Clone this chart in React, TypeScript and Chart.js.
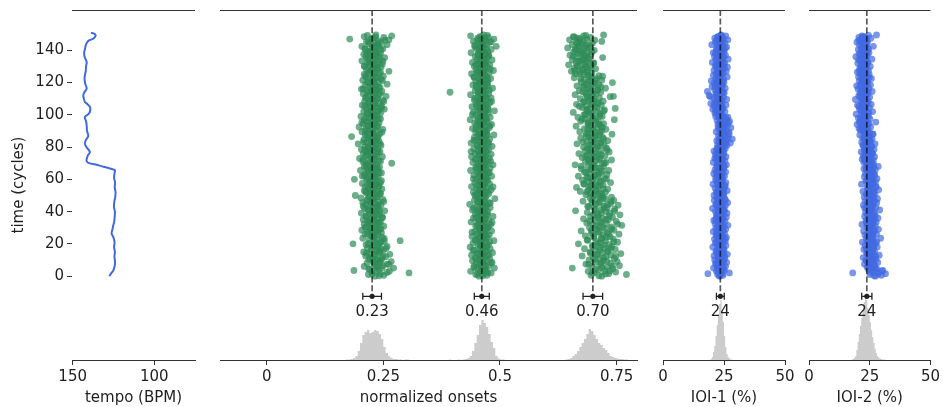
import React, { useEffect, useRef } from "react";
import { Chart, registerables } from "chart.js";

Chart.register(...registerables);

// ---------------- data ----------------
// tempo curve (cycle -> BPM)
const tempoCycle = [0, 1.5, 3.5, 6, 9, 12, 15, 18, 21, 24, 26.5, 29, 31.5, 34, 37, 40, 43, 46, 49, 52, 55, 58, 61, 64, 65.7, 66.7, 67.8, 68.8, 70.2, 71.5, 73, 75, 77, 79.5, 82, 84.5, 87, 90, 93.5, 96, 98.7, 100.8, 103, 104.9, 106.5, 108, 110, 112, 114, 116.3, 119, 122, 124.5, 127, 130, 132.7, 135, 137, 139, 141, 143, 144.5, 146, 147.2, 148.3, 149.3, 150.3, 151];
const tempoBpm = [127.6, 126.5, 125.1, 124.3, 124.0, 124.4, 124.1, 124.6, 124.3, 125.0, 126.1, 125.6, 125.1, 124.5, 124.2, 124.1, 124.7, 124.5, 123.9, 123.7, 124.2, 124.0, 124.6, 124.3, 124.1, 127.1, 131, 134.3, 140.4, 141.5, 141.3, 140.6, 139.4, 141.2, 142.5, 141.8, 140.4, 141.2, 141.4, 141.8, 142.5, 140.0, 139.2, 139.4, 140.8, 142.5, 143.1, 143.5, 142.8, 141.4, 142.2, 142.7, 142.5, 142.0, 141.8, 141.4, 142.3, 142.9, 142.9, 142.4, 142.0, 141.4, 140.2, 137.4, 136.3, 135.9, 136.8, 138.8];

// main arrays: two observations per cycle, from cycle 0 upward (time = index / 2)
const CYCLES_PER_POINT = 0.5;
// extra arrays: one observation per cycle (time = index + 0.25)
const EXTRA_OFFSET = 0.25;

const onset1 = [
  .232, .251, .218, .244, .305, .226, .263, .187, .240, .221, .272, .236, .209, .249, .231, .258, .215, .242, .267, .228,
  .238, .219, .247, .226, .255, .212, .233, .264, .221, .241, .208, .236, .250, .224, .245, .216, .239, .258, .229, .213,
  .185, .243, .231, .252, .286, .220, .237, .206, .248, .227,
  .224, .239, .211, .232, .246, .218, .229, .204, .241, .222, .235, .214, .251, .227, .209, .238, .220, .244, .216, .231,
  .207, .236, .225, .248, .213, .230, .242, .219, .203, .234, .226, .253, .217, .240, .210, .228, .237, .221, .245, .212,
  .233, .206, .239, .224, .216, .249, .229, .202, .236, .219, .190, .232, .243, .214, .227, .238, .209, .222, .247, .218,
  .230, .211, .241, .225, .235, .205, .244, .220, .233, .215,
  .188, .228, .214, .239, .205, .224, .233, .211, .246, .219, .230, .201, .237, .216, .226, .242, .209, .221, .235, .213,
  .268, .227, .206, .240, .218, .231, .199, .224, .248, .212, .229, .236, .207, .220, .243, .215, .226, .203, .238, .217,
  .232, .210, .245, .222, .196, .234, .214, .228, .240, .208, .225, .219, .237, .182, .230, .211, .242, .216, .227, .204,
  .235, .221, .249, .213, .229, .198, .238, .218, .226, .207, .241, .223, .214, .233, .209, .244, .220, .231, .202, .236,
  .231, .216, .244, .223, .208, .238, .227, .252, .214, .235, .220, .246, .205, .229, .241, .218, .233, .210, .249, .225,
  .237, .212, .228, .256, .219, .240, .207, .232, .224, .247, .215, .236, .203, .229, .243, .221, .234, .211, .258, .226,
  .217, .239, .230, .206, .245, .222, .235, .213, .250, .228, .209, .241, .219, .232, .262, .224, .214, .237, .229, .245,
  .210, .233, .221, .248, .216, .238, .226, .204, .242, .231, .219, .253, .213, .236, .227, .208, .244, .222, .234, .217,
  .232, .211, .249, .226, .241, .204, .236, .258, .219, .230, .245, .214, .239, .262, .178, .227, .251, .209, .268, .234,
];
const onset1Extra = [
  .241, .226, .258, .233, .219, .247, .236, .262, .229, .244,
  .237, .221, .249, .230, .214, .243, .234, .256, .225, .239, .218, .245, .231, .252, .227,
  .229, .216, .238, .224, .245, .211, .233, .222, .241, .219, .230, .248, .213, .236, .226, .242, .218, .232, .207, .239,
  .224, .251, .215, .228, .237, .220, .244, .212, .231, .226, .240, .217, .234, .223, .246,
  .221, .234, .209, .228, .241, .216, .225, .237, .212, .230, .219, .244, .206, .227, .235, .214, .223, .239, .210, .231,
  .218, .226, .243, .208, .233, .221, .238, .215, .229, .247, .211, .224, .236, .217, .232, .204, .228, .240, .213, .225,
  .228, .215, .239, .223, .246, .210, .232, .220, .251, .226, .237, .213, .229, .243, .218, .234, .207, .240, .224, .231,
  .216, .248, .227, .236, .212, .230, .244, .219, .225, .238, .209, .233, .221, .249, .217, .228, .241, .214, .235, .222,
  .245, .211, .231, .226, .239, .218, .253, .224, .233, .216,
];

const onset2 = [
  .455, .472, .448, .466, .481, .459, .437, .470, .463, .452, .488, .461, .444, .476, .458, .467, .449, .483, .464, .441,
  .469, .456, .478, .447, .462, .474, .439, .465, .451, .484, .460, .471, .445, .457, .479, .463, .436, .468, .453, .475,
  .458, .442, .470, .461, .487, .449, .466, .454, .473, .440, .462, .477, .451, .468, .459, .446, .482, .464, .455, .471,
  .457, .473, .448, .465, .480, .452, .467, .438, .461, .476, .454, .469, .443, .463, .485, .458, .471, .447, .466, .452,
  .474, .460, .441, .468, .456, .479, .449, .464, .471, .435, .459, .477, .453, .467, .445, .462, .489, .456, .470, .448,
  .465, .451, .476, .460, .443, .468, .457, .481, .450, .463, .472, .439, .466, .455, .478, .461, .446, .469, .458, .474,
  .463, .449, .471, .456, .482, .444, .467, .459, .475, .451, .464, .437, .470, .457, .479, .448, .466, .461, .485, .453,
  .468, .442, .473, .458, .464, .450, .477, .462, .439, .469, .455, .481, .447, .465, .472, .452, .460, .476, .444, .467,
  .458, .483, .451, .470, .463, .438, .474, .456, .466, .449, .478, .461, .445, .469, .454, .487, .460, .472, .448, .465,
  .471, .454, .466, .441, .477, .459, .468, .450, .482, .462, .446, .473, .457, .465, .436, .470, .453, .479, .461, .448,
  .467, .458, .475, .443, .464, .488, .452, .469, .456, .474, .440, .463, .471, .449, .460, .478, .455, .466, .445, .472,
  .459, .481, .451, .468, .462, .437, .476, .454, .393, .465, .447, .470, .458, .484, .450, .463, .473, .442, .467, .456,
  .474, .460, .448, .469, .455, .480, .462, .444, .471, .457, .466, .439, .477, .452, .464, .486, .449, .468, .458, .473,
  .445, .463, .478, .454, .467, .441, .470, .459, .483, .451, .465, .472, .447, .461, .476, .453, .468, .438, .474, .462,
  .456, .481, .450, .466, .459, .492, .446, .471, .463, .455, .478, .443, .469, .460, .487, .452, .475, .457, .437, .465,
];
const onset2Extra = [
  .463, .452, .474, .458, .467, .445, .470, .456, .481, .461, .449, .466, .459, .476, .453, .468, .442, .464, .472, .457,
  .460, .478, .447, .465, .455, .471, .462, .440, .469, .458, .475, .451, .464, .483, .456, .467, .448, .461, .473, .454,
  .466, .459, .444, .470, .462, .479, .452, .465, .457, .468, .446, .463, .474, .455, .460, .485, .450, .467, .458, .471,
  .443, .464, .469, .456, .477, .461, .449, .466, .453, .472, .459, .480, .447, .463, .468, .455, .462, .438, .470, .457,
  .465, .451, .476, .460, .444, .467, .458, .473, .454, .464, .469, .448, .461, .478, .456, .466, .452, .471, .459, .463,
  .441, .468, .457, .475, .462, .450, .466, .455, .482, .460, .446, .470, .458, .464, .453, .477, .461, .467, .449, .472,
  .456, .463, .474, .445, .468, .459, .451, .466, .479, .457, .462, .448, .470, .455, .465, .460, .476, .453, .468, .461,
  .457, .471, .446, .464, .459, .481, .452, .467, .460, .473,
];

const onset3 = [
  .718, .695, .771, .733, .702, .748, .689, .724, .711, .742, .655, .729, .697, .756, .716, .684, .737, .705, .751, .722,
  .691, .714, .745, .700, .727, .676, .738, .709, .759, .719, .693, .731, .704, .747, .681, .723, .712, .740, .698, .734,
  .668, .715, .752, .706, .726, .688, .743, .717, .701, .736, .683, .721, .755, .696, .730, .710, .674, .744, .707, .725,
  .692, .739, .713, .761, .699, .728, .686, .718, .749, .703, .732, .679, .720, .741, .694, .711, .757, .708, .735, .687,
  .727, .662, .716, .746, .702, .730, .690, .723, .753, .705, .737, .697, .714, .678, .744, .709, .726, .693, .739, .719,
  .701, .684, .718, .693, .726, .672, .707, .689, .731, .698, .664, .712, .694, .721, .680, .705, .737, .691, .715, .677,
  .699, .724, .686, .710, .668, .703, .729, .692, .716, .681, .708, .733, .696, .674, .713, .688, .722, .700, .661, .719,
  .695, .727, .683, .706, .739, .690, .714, .676, .702, .725, .687, .711, .669, .697, .734, .682, .717, .693, .705, .728,
  .679, .709, .691, .723, .665, .700, .716, .686, .731, .695, .707, .673, .720, .698, .684, .713, .740, .689, .704, .671,
  .718, .694, .727, .681, .709, .699, .663, .715, .690, .722,
  .688, .711, .673, .697, .745, .682, .705, .667, .719, .692, .680, .714, .698, .657, .709, .686, .724, .691, .747, .676,
  .703, .684, .717, .664, .695, .708, .679, .721, .690, .700, .672, .713, .687, .743, .697, .661, .706, .683, .716, .694,
  .670, .710, .688, .726, .678, .699, .665, .712, .685, .704, .741, .674, .693, .718, .681, .707, .659, .696, .720, .689,
  .681, .662, .697, .671, .653, .688, .676, .705, .659, .684, .668, .693, .647, .679, .700, .663, .686, .672, .655, .691,
  .678, .720, .664, .683, .650, .695, .669, .687, .658, .674, .702, .661, .680, .645, .692, .667, .684, .655, .676, .698,
  .663, .718, .671, .649, .686, .666, .694, .657, .679, .722,
];
const onset3Extra = [
  .712, .726, .698, .735, .705, .719, .741, .690, .716, .729, .703, .722, .748, .708, .694, .731, .714, .737, .699, .724,
  .710, .744, .687, .718, .728, .701, .733, .713, .696, .739, .720, .706, .752, .715, .692, .727, .709, .734, .700, .717,
  .745, .704, .723, .688, .730, .711, .738, .697, .721, .714,
  .699, .713, .686, .705, .721, .692, .708, .680, .716, .697, .728, .689, .703, .711, .684, .719, .695, .707, .674, .701,
  .724, .690, .712, .698, .683, .717, .704, .693, .730, .687, .709, .696, .715, .678, .702, .722, .691, .706, .685, .714,
  .700, .688, .719, .694, .710,
  .690, .705, .676, .699, .714, .683, .695, .722, .687, .708, .670, .697, .711, .681, .702, .693, .736, .685, .700, .677,
  .709, .691, .716, .680, .698, .688, .704, .673, .694, .712,
  .672, .686, .660, .679, .695, .665, .683, .701, .668, .677, .690, .657, .681, .674, .697, .663, .686, .670, .692, .666,
  .680, .703, .671, .659, .684,
];

const ioi1 = [
  23.1, 24.6, 22.4, 18.4, 27.2, 23.8, 21.9, 25.1, 22.8, 24.3, 20.7, 23.5, 25.6, 22.2, 24.0, 21.5, 23.3, 26.1, 22.9, 24.7,
  21.2, 23.9, 25.3, 22.6, 24.2, 20.9, 23.6, 26.4, 22.1, 24.9, 23.0, 21.7, 25.0, 23.4, 22.5, 24.5, 20.4, 23.7, 25.8, 22.3,
  24.1, 21.4, 23.2, 25.5, 22.7, 24.8, 21.1, 23.6, 26.0, 22.0, 24.4, 21.8, 23.9, 25.2, 22.4, 20.6, 24.6, 23.1, 25.7, 21.6,
  23.8, 22.2, 24.3, 26.6, 22.9, 21.3, 24.0, 23.3, 25.4, 20.8, 23.5, 24.7, 22.6, 25.9, 21.9, 23.0, 24.2, 22.1, 26.2, 23.7,
  21.5, 24.8, 22.8, 25.1, 20.3, 23.4, 24.5, 22.3, 25.6, 21.7, 23.9, 26.5, 22.5, 24.1, 21.0, 23.6, 25.3, 22.0, 24.4, 23.2,
  20.9, 24.9, 22.7, 25.0, 21.8, 23.8, 26.3, 22.4, 24.6, 21.4, 23.1, 25.5, 22.9, 24.0, 20.5, 23.5, 25.8, 22.2, 24.3, 21.6,
  23.0, 24.5, 21.6, 23.8, 25.2, 22.3, 24.1, 20.8, 23.4, 25.7, 22.0, 23.9, 21.3, 24.7, 22.6, 25.0, 21.9, 23.6, 26.0, 22.4,
  24.2, 20.6, 23.1, 25.4, 22.8, 24.4, 21.2, 23.7, 25.8, 22.1, 24.0, 21.5, 23.5, 24.9, 22.5, 20.9, 24.6, 23.2, 25.5, 22.2,
  24.8, 23.1, 26.2, 22.4, 25.3, 27.6, 23.8, 25.9, 22.0, 24.5, 28.4, 23.4, 26.7, 24.1, 22.7, 25.6, 27.1, 23.9, 24.9, 21.8,
  26.0, 24.3, 22.9, 25.1, 27.8, 23.6, 24.7, 26.4, 22.5, 25.4, 23.2, 24.0, 27.3, 22.2, 25.8, 24.6, 23.0, 26.6, 21.6, 24.4,
  22.6, 24.1, 21.3, 23.5, 25.4, 22.0, 23.9, 20.4, 24.6, 22.8, 21.1, 23.7, 25.8, 22.3, 19.6, 24.2, 22.9, 21.5, 23.4, 26.1,
  20.8, 23.0, 24.8, 22.1, 18.9, 23.6, 21.7, 25.1, 22.5, 18.2, 24.0, 21.2, 23.3, 25.5, 22.7, 20.1, 24.4, 22.2, 23.8, 21.0,
  25.0, 22.4, 19.8, 23.7, 24.9, 21.6, 23.1, 26.3, 22.8, 20.6,
  23.6, 21.8, 24.7, 22.5, 25.9, 20.9, 23.3, 24.5, 22.1, 26.4, 23.0, 21.4, 24.9, 22.8, 25.3, 20.2, 23.9, 24.2, 21.7, 26.7,
  22.9, 24.6, 21.1, 23.5, 25.6, 22.3, 24.0, 20.6, 23.2, 25.0, 22.0, 24.8, 21.9, 23.7, 26.1, 22.6, 24.3, 20.0, 23.4, 25.4,
  21.5, 24.1, 22.7, 26.6, 23.1, 21.2, 24.4, 22.4, 25.7, 23.8,
];
const ioi1Extra = [
  23.4, 24.2, 22.7, 23.9, 25.0, 22.3, 24.5, 23.1, 21.8, 24.8, 23.6, 22.5, 25.3, 23.0, 24.1, 22.0, 23.7, 24.9, 22.8, 23.3,
  24.4, 21.9, 23.8, 25.5, 22.6, 24.0, 23.2, 22.1, 24.7, 23.5, 22.9, 25.1, 23.9, 22.4, 24.3, 21.6, 23.6, 24.6, 22.2, 23.1,
  25.2, 22.8, 24.0, 23.4, 21.7, 24.4, 23.0, 25.6, 22.5, 23.8, 24.2, 22.1, 23.5, 24.9, 22.7, 23.3, 25.4, 22.3, 24.1, 23.7,
  23.1, 24.2, 22.4, 23.7, 21.9, 24.6, 22.8, 23.4, 25.1, 22.2, 23.9, 22.6, 24.4, 21.7, 23.2, 24.8, 22.9, 23.5, 22.0, 24.1,
  24.6, 23.3, 25.7, 24.0, 22.9, 26.3, 24.4, 23.6, 25.2, 27.0, 23.9, 24.8, 22.6, 25.5, 24.2, 26.8, 23.5, 24.9, 25.9, 23.1,
  22.9, 23.8, 21.6, 23.2, 24.5, 22.4, 20.9, 23.6, 22.1, 24.2, 22.7, 19.4, 23.4, 21.9, 24.8, 22.5, 23.1, 21.3, 23.9, 22.2,
  24.4, 21.8, 23.0, 22.6, 24.0,
  23.5, 22.2, 24.3, 23.0, 25.2, 21.8, 23.9, 22.6, 24.6, 23.2, 22.0, 24.9, 23.4, 21.5, 24.1, 22.8, 25.5, 23.6, 22.3, 24.4,
  23.1, 21.9, 24.7, 22.5, 23.8,
];

const ioi2 = [
  27.4, 29.8, 25.1, 31.5, 18.0, 28.2, 26.3, 30.4, 24.6, 27.9,
  25.8, 23.9, 27.2, 24.5, 26.6, 22.8, 25.1, 28.3, 24.2, 26.0, 23.4, 27.6, 25.5, 22.3, 26.9, 24.8, 28.9, 25.2, 23.7, 26.4,
  24.0, 27.0, 25.7, 22.6, 26.2, 24.4, 28.1, 25.0, 23.2, 26.8, 24.7, 27.4, 22.0, 25.9, 24.1, 26.5, 23.6, 29.5, 25.3, 24.9,
  26.1, 23.0, 27.8, 25.6, 24.3, 26.7, 22.5, 25.4, 28.6, 24.6, 26.3, 23.8, 27.3, 25.1, 21.8, 26.0, 24.2, 27.7, 25.8, 23.5,
  26.9, 24.5, 28.4, 25.2, 22.9, 26.4, 24.0, 27.1, 25.6, 23.3, 26.6, 24.8, 29.1, 25.0, 23.7, 27.5, 24.4, 26.2, 22.4, 25.7,
  24.1, 27.9, 25.4, 23.1, 26.8, 24.7, 28.2, 25.9, 22.7, 26.3, 24.9, 27.2, 23.6, 25.5, 26.7, 22.2, 25.0, 28.7, 24.3, 26.1,
  23.9, 27.6, 25.3, 24.6, 21.6, 26.5, 25.1, 27.4, 23.4, 25.8, 24.2, 28.0, 26.0, 22.8, 25.6, 24.8, 27.0, 23.2, 26.4, 24.5,
  25.9, 23.7, 27.3, 22.6, 26.2, 24.0, 28.5, 25.2, 23.8, 26.6,
  24.4, 22.6, 25.8, 23.3, 26.5, 21.9, 24.9, 23.6, 27.0, 22.4, 25.1, 23.0, 26.2, 24.2, 21.5, 25.5, 23.8, 26.8, 22.8, 24.6,
  23.1, 25.9, 22.2, 24.0, 27.2, 23.5, 21.7, 25.3, 24.7, 22.9, 26.0, 23.9, 22.1, 25.0, 24.3, 20.9, 26.4, 23.4, 24.8, 22.5,
  22.8, 21.2, 24.3, 20.6, 23.5, 25.4, 21.9, 23.0, 19.8, 24.7, 22.3, 27.5, 21.0, 23.8, 22.1, 25.1, 20.3, 23.2, 24.5, 21.6,
  22.9, 19.4, 24.0, 22.5, 26.2, 21.3, 23.6, 20.8, 22.7, 24.9, 21.8, 23.3, 20.0, 25.6, 22.2, 23.9, 21.4, 24.4, 22.6, 19.1,
  23.1, 21.7, 25.0, 22.4, 20.5, 24.1, 22.9, 21.1, 23.7, 26.0, 21.9, 23.4, 20.2, 24.6, 22.0, 23.0, 19.6, 25.3, 22.7, 21.5,
  24.2, 22.3, 20.7, 23.6, 21.8, 25.7, 22.5, 20.4, 23.9, 22.1, 24.8, 21.2, 23.2, 19.9, 22.8, 24.5, 21.6, 23.5, 20.9, 22.4,
  25.2, 21.4, 23.8, 22.0, 20.1, 24.3, 22.6, 21.0, 23.3, 25.9, 21.7, 22.9, 19.3, 24.0, 22.2, 23.7, 20.6, 24.7, 21.9, 23.1,
  22.5, 20.3, 24.4, 21.5, 23.4, 26.5, 22.1, 20.8, 23.9, 22.7, 19.7, 24.1, 21.3, 23.6, 22.4, 25.5, 20.5, 23.0, 21.8, 27.8,
];
const ioi2Extra = [
  26.8, 28.6, 25.4, 29.9, 27.3,
  25.6, 24.3, 26.9, 25.0, 23.8, 26.4, 24.9, 27.5, 25.3, 24.1, 26.2, 25.8, 23.5, 26.7, 24.6, 25.2, 27.9, 24.4, 25.9, 26.5,
  23.9, 25.5, 24.8, 27.1, 25.1, 26.0, 24.2, 25.7, 23.6, 26.6, 25.4, 24.7, 27.3, 25.0, 26.1, 24.5, 25.8, 22.9, 26.3, 25.2,
  24.0, 27.0, 25.6, 24.9, 26.4, 23.7, 25.3, 26.8, 24.4, 25.9, 27.6, 24.6, 25.1, 26.2, 23.8, 25.7, 24.3, 26.9, 25.5, 24.8,
  26.0, 25.0, 23.4, 26.5, 25.3,
  24.2, 23.1, 25.3, 22.7, 24.8, 23.6, 26.0, 22.9, 24.5, 23.4, 25.6, 22.3, 24.0, 23.8, 25.1, 22.6, 24.7, 23.3, 26.2, 23.9,
  22.6, 21.5, 23.8, 22.1, 24.2, 20.8, 23.0, 22.4, 21.2, 23.5, 22.8, 24.6, 21.7, 22.9, 23.3, 20.5, 22.2, 24.0, 21.9, 23.1,
  22.5, 20.9, 23.7, 22.0, 24.4, 21.4, 22.7, 23.4, 21.0, 22.3, 23.9, 21.8, 22.6, 24.8, 21.3, 23.2, 22.1, 20.7, 23.6, 22.4,
  21.6, 23.0, 24.1, 22.2, 20.4, 23.3, 22.8, 21.1, 23.8, 22.5, 24.3, 21.5, 22.9, 23.5, 21.9, 22.6, 20.6, 23.1, 22.0, 24.5,
];

// histograms shown under each panel (bin start, bin width, bar heights)
const onsetHistStart = 0.17;
const onsetHistWidth = 0.005;
const onsetHistCounts = [
  0.5, 0.5, 1, 2, 4, 9, 17, 25, 28, 30, 27, 28, 30, 29, 26, 21, 13, 7, 4, 2,
  1, 1, 0.5, 0.5, 0, 0.5, 0.5, 0, 0, 0, 0, 0, 0, 0, 0, 0, 0, 0, 0, 0,
  0, 0, 0, 0, 0.5, 0, 0, 0, 0.5, 0, 0.5, 1, 2, 4, 9, 17, 25, 35, 40, 37,
  33, 26, 18, 12, 4, 1.5, 0.5, 0.5, 0, 0, 0, 0, 0, 0, 0, 0, 0, 0, 0, 0,
  0, 0, 0, 0, 0, 0, 0, 0, 0, 0, 0, 0, 0, 0, 0.5, 1, 2, 4, 6, 9,
  13, 17, 21, 26, 31, 29, 25, 21, 17, 15, 12, 10, 7, 4, 3, 2, 1.5, 1, 1, 0.5,
  0.5,
];
const ioi1HistStart = 19.5;
const ioi1HistWidth = 0.5;
const ioi1HistCounts = [1, 3, 8, 14, 24, 35, 46, 56, 60, 50, 38, 24, 13, 6, 3, 1.5, 0.5, 0.5];
const ioi2HistStart = 17.5;
const ioi2HistWidth = 0.5;
const ioi2HistCounts = [0.5, 1, 2, 4, 10, 18, 26, 34, 42, 50, 58, 62, 60, 52, 45, 38, 30, 23, 17, 11, 7, 4, 2.5, 1.5, 1, 0.5, 0.5, 0.5];

// summary statistics shown under each column (mean, std)
const onsetMeans = [0.226, 0.461, 0.699];
const onsetSds = [0.020, 0.016, 0.021];
const ioi1Mean = 23.5;
const ioi1Sd = 1.6;
const ioi2Mean = 23.8;
const ioi2Sd = 2.1;

// axis ticks
const yTicks = [0, 20, 40, 60, 80, 100, 120, 140];
const tempoTicks = [150, 100];
const onsetTicks = [0, 0.25, 0.5, 0.75];
const ioiTicks = [0, 25, 50];

// ---------------- styling / layout ----------------
const W = 943;
const H = 407;
const Y_MIN = -52;
const Y_MAX = 165;
const ERR_Y = -12.5;
const LABEL_Y = -22;
const HIST_UNIT = 0.62; // y-units per histogram count
const FONT = "'DejaVu Sans', 'Liberation Sans', sans-serif";
const FSIZE = 15;
const TXT = "#1f1f1f";
const AX = "#333333";
const GREEN = "rgba(46,139,87,0.7)";
const BLUE = "rgba(65,105,225,0.7)";
const HIST = "#cccccc";

const toPts = (main: number[], extra: number[]) => [
  ...main.map((v, k) => ({ x: v, y: k * CYCLES_PER_POINT })),
  ...extra.map((v, k) => ({ x: v, y: k + EXTRA_OFFSET })),
];

function histDataset(start: number, width: number, counts: number[]) {
  const pts: { x: number; y: number }[] = [{ x: start, y: Y_MIN }];
  counts.forEach((c, i) => {
    const h = Y_MIN + c * HIST_UNIT;
    pts.push({ x: start + i * width, y: h }, { x: start + (i + 1) * width, y: h });
  });
  pts.push({ x: start + counts.length * width, y: Y_MIN });
  return {
    data: pts,
    showLine: true,
    fill: { value: Y_MIN },
    backgroundColor: HIST,
    borderColor: "rgba(0,0,0,0)",
    borderWidth: 0,
    pointRadius: 0,
    tension: 0,
    order: 3,
  };
}

function scatterDataset(main: number[], extra: number[], color: string) {
  return {
    data: toPts(main, extra),
    backgroundColor: color,
    borderWidth: 0,
    pointRadius: 3.4,
    pointHoverRadius: 3.4,
    order: 2,
  };
}

const font = { family: FONT, size: FSIZE };

function xScale(min: number, max: number, ticks: number[], title: string, reverse = false) {
  return {
    type: "linear",
    min,
    max,
    reverse,
    afterBuildTicks: (s: any) => {
      s.ticks = ticks.map((v) => ({ value: v }));
    },
    afterFit: (s: any) => {
      s.height = 47;
    },
    grid: { display: true, drawOnChartArea: false, drawTicks: true, tickLength: 5, tickColor: AX, tickWidth: 1 },
    border: { display: true, color: AX, width: 1 },
    ticks: { color: TXT, font, padding: 3, maxRotation: 0, autoSkip: false, callback: (v: any) => String(v) },
    title: { display: true, text: title, color: TXT, font, padding: { top: 0, bottom: 0 } },
  };
}

const hiddenY = { type: "linear", display: false, min: Y_MIN, max: Y_MAX };

const topSpine = {
  id: "topSpine",
  afterDraw(chart: any) {
    const { ctx, chartArea } = chart;
    ctx.save();
    ctx.strokeStyle = AX;
    ctx.lineWidth = 1;
    ctx.beginPath();
    ctx.moveTo(chartArea.left, Math.round(chartArea.top) + 0.5);
    ctx.lineTo(chartArea.right, Math.round(chartArea.top) + 0.5);
    ctx.stroke();
    ctx.restore();
  },
};

function summaryPlugin(stats: { mean: number; sd: number; label: string }[]) {
  return {
    id: "summary",
    afterDatasetsDraw(chart: any) {
      const { ctx, scales } = chart;
      const x = scales.x;
      const y = scales.y;
      stats.forEach((s) => {
        const px = x.getPixelForValue(s.mean);
        const yTop = y.getPixelForValue(Y_MAX);
        const yErr = y.getPixelForValue(ERR_Y);
        ctx.save();
        ctx.strokeStyle = "rgba(0,0,0,0.65)";
        ctx.lineWidth = 1.7;
        ctx.setLineDash([6, 2.6]);
        ctx.beginPath();
        ctx.moveTo(px, yTop);
        ctx.lineTo(px, yErr);
        ctx.stroke();
        ctx.setLineDash([]);
        const x0 = x.getPixelForValue(s.mean - s.sd);
        const x1 = x.getPixelForValue(s.mean + s.sd);
        ctx.strokeStyle = "#222";
        ctx.lineWidth = 1.3;
        ctx.beginPath();
        ctx.moveTo(x0, yErr);
        ctx.lineTo(x1, yErr);
        ctx.moveTo(x0, yErr - 3.5);
        ctx.lineTo(x0, yErr + 3.5);
        ctx.moveTo(x1, yErr - 3.5);
        ctx.lineTo(x1, yErr + 3.5);
        ctx.stroke();
        ctx.fillStyle = "#222";
        ctx.beginPath();
        ctx.arc(px, yErr, 2.6, 0, Math.PI * 2);
        ctx.fill();
        ctx.font = `${FSIZE}px ${FONT}`;
        ctx.fillStyle = TXT;
        ctx.textAlign = "center";
        ctx.textBaseline = "middle";
        ctx.fillText(s.label, px, y.getPixelForValue(LABEL_Y));
        ctx.restore();
      });
    },
  };
}

const baseOptions = (padding: any, scales: any) => ({
  responsive: false,
  animation: false,
  events: [],
  layout: { padding },
  plugins: { legend: { display: false }, tooltip: { enabled: false } },
  scales,
});

function tempoConfig(): any {
  return {
    type: "scatter",
    data: {
      datasets: [
        {
          data: tempoBpm.map((b, i) => ({ x: b, y: tempoCycle[i] })),
          showLine: true,
          borderColor: "#4169E1",
          borderWidth: 2,
          pointRadius: 0,
          tension: 0.35,
          fill: false,
        },
      ],
    },
    options: baseOptions(
      { left: 0, right: W - 195, top: 10, bottom: 0 },
      {
        x: xScale(75, 150.4, tempoTicks, "tempo (BPM)", true),
        y: {
          type: "linear",
          min: Y_MIN,
          max: Y_MAX,
          afterBuildTicks: (s: any) => {
            s.ticks = yTicks.map((v) => ({ value: v }));
          },
          afterFit: (s: any) => {
            s.width = 72;
            s.paddingTop = 0;
            s.paddingBottom = 0;
          },
          grid: { display: true, drawOnChartArea: false, drawTicks: true, tickLength: 5, tickColor: AX, tickWidth: 1 },
          border: { display: false },
          ticks: { color: TXT, font, padding: 3, callback: (v: any) => String(v) },
          title: { display: true, text: "time (cycles)", color: TXT, font, padding: { top: 10, bottom: 0 } },
        },
      }
    ),
    plugins: [topSpine],
  };
}

function onsetConfig(): any {
  return {
    type: "scatter",
    data: {
      datasets: [
        histDataset(onsetHistStart, onsetHistWidth, onsetHistCounts),
        scatterDataset(onset1, onset1Extra, GREEN),
        scatterDataset(onset2, onset2Extra, GREEN),
        scatterDataset(onset3, onset3Extra, GREEN),
      ],
    },
    options: baseOptions(
      { left: 220, right: W - 637, top: 10, bottom: 0 },
      { x: xScale(-0.1, 0.7936, onsetTicks, "normalized onsets"), y: hiddenY }
    ),
    plugins: [
      topSpine,
      summaryPlugin(onsetMeans.map((m, i) => ({ mean: m, sd: onsetSds[i], label: m.toFixed(2) }))),
    ],
  };
}

function ioiConfig(
  vals: number[],
  extra: number[],
  hStart: number,
  hWidth: number,
  hCounts: number[],
  mean: number,
  sd: number,
  left: number,
  right: number,
  title: string
): any {
  return {
    type: "scatter",
    data: {
      datasets: [histDataset(hStart, hWidth, hCounts), scatterDataset(vals, extra, BLUE)],
    },
    options: baseOptions(
      { left, right: W - right, top: 10, bottom: 0 },
      { x: xScale(0, 50, ioiTicks, title), y: hiddenY }
    ),
    plugins: [topSpine, summaryPlugin([{ mean, sd, label: mean.toFixed(0) }])],
  };
}

export default function App() {
  const r1 = useRef<HTMLCanvasElement>(null);
  const r2 = useRef<HTMLCanvasElement>(null);
  const r3 = useRef<HTMLCanvasElement>(null);
  const r4 = useRef<HTMLCanvasElement>(null);

  useEffect(() => {
    const charts = [
      new Chart(r1.current as any, tempoConfig()),
      new Chart(r2.current as any, onsetConfig()),
      new Chart(
        r3.current as any,
        ioiConfig(ioi1, ioi1Extra, ioi1HistStart, ioi1HistWidth, ioi1HistCounts, ioi1Mean, ioi1Sd, 663, 785, "IOI-1 (%)")
      ),
      new Chart(
        r4.current as any,
        ioiConfig(ioi2, ioi2Extra, ioi2HistStart, ioi2HistWidth, ioi2HistCounts, ioi2Mean, ioi2Sd, 809, 931, "IOI-2 (%)")
      ),
    ];
    return () => charts.forEach((c) => c.destroy());
  }, []);

  const cs: React.CSSProperties = { position: "absolute", left: 0, top: 0 };
  return (
    <div style={{ position: "absolute", left: 0, top: 0, width: W, height: H, background: "#fff", overflow: "hidden" }}>
      <canvas ref={r1} width={W} height={H} style={cs} />
      <canvas ref={r2} width={W} height={H} style={cs} />
      <canvas ref={r3} width={W} height={H} style={cs} />
      <canvas ref={r4} width={W} height={H} style={cs} />
    </div>
  );
}
